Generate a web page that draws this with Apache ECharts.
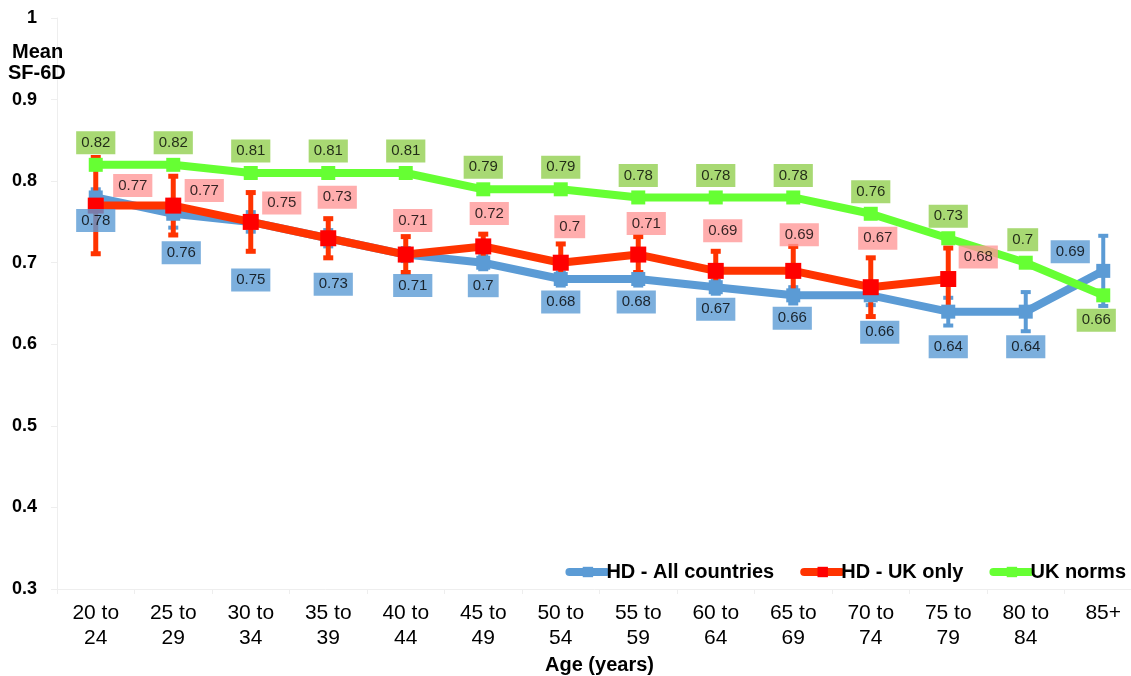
<!DOCTYPE html>
<html>
<head>
<meta charset="utf-8">
<script src="https://cdn.jsdelivr.net/npm/echarts@6/dist/echarts.min.js"></script>
<style>
html,body{margin:0;padding:0;background:#fff;}
#chart{width:1131px;height:676px;}
</style>
</head>
<body>
<div id="chart"></div>
<script>
// ---- data ----
var categories = ['20 to\n24','25 to\n29','30 to\n34','35 to\n39','40 to\n44','45 to\n49','50 to\n54','55 to\n59','60 to\n64','65 to\n69','70 to\n74','75 to\n79','80 to\n84','85+'];
var hdAll   = [0.78,0.76,0.75,0.73,0.71,0.70,0.68,0.68,0.67,0.66,0.66,0.64,0.64,0.69];
var hdUK    = [0.77,0.77,0.75,0.73,0.71,0.72,0.70,0.71,0.69,0.69,0.67,0.68,null,null];
var ukNorms = [0.82,0.82,0.81,0.81,0.81,0.79,0.79,0.78,0.78,0.78,0.76,0.73,0.70,0.66];
var hdAllErr = [0.010,0.017,0.012,0.010,0.008,0.008,0.008,0.008,0.008,0.010,0.012,0.017,0.024,0.043];
var hdUKErr  = [0.059,0.036,0.036,0.024,0.022,0.015,0.023,0.022,0.024,0.030,0.036,0.038,null,null];
var yTicks = [0.3,0.4,0.5,0.6,0.7,0.8,0.9,1];

// ---- label placement (styling, not data) ----
var blueShift  = [[0,23],[8,39],[0,58],[5,46],[7,31],[0,23],[0,23],[-2,23],[0,22],[-1,23],[9,37],[0,35],[0,35],[-33,-19]];
var redShift   = [[37,-20],[31,-15],[31,-19],[9,-41],[7,-34],[6,-33],[9,-36],[8,-31],[7,-40],[6,-36],[7,-49],[30,-22],[0,0],[0,0]];
var greenShift = [[0,-22],[0,-22],[0,-22],[0,-22],[0,-22],[0,-22],[0,-22],[0,-22],[0,-22],[0,-22],[0,-22],[0,-22],[-3,-23],[-7,25]];

var BLUE = '#5B9BD5', RED_LINE = '#FF3300', RED_MK = '#FF0000', GREEN = '#66FF33';
var FONT = 'Arial, "Liberation Sans", sans-serif';

function labelSeries(name, values, shifts, bg) {
  var data = [];
  values.forEach(function (v, i) {
    if (v == null) return;
    data.push({
      value: [i, v],
      label: {
        show: true,
        position: 'inside',
        offset: shifts[i],
        backgroundColor: bg,
        color: '#000',
        fontFamily: FONT,
        fontSize: 15,
        padding: [4, 5, 4, 5],
        formatter: function (p) { return String(p.value[1]); }
      }
    });
  });
  return {
    name: name + ' labels',
    type: 'scatter',
    data: data,
    symbol: 'rect',
    symbolSize: 2,
    itemStyle: { color: 'rgba(255,255,255,0)' },
    silent: true,
    z: 20
  };
}

function errData(values, errs) {
  var out = [];
  values.forEach(function (v, i) {
    if (v != null && errs[i] != null) out.push([i, v - errs[i], v + errs[i]]);
  });
  return out;
}

function errSeries(name, values, errs, color, width) {
  return {
    type: 'custom',
    name: name + ' err',
    data: errData(values, errs),
    encode: { x: 0, y: [1, 2] },
    silent: true,
    z: 2,
    renderItem: function (params, api) {
      var lo = api.coord([api.value(0), api.value(1)]);
      var hi = api.coord([api.value(0), api.value(2)]);
      var half = 5;
      var st = { stroke: color, lineWidth: width };
      return {
        type: 'group',
        children: [
          { type: 'line', shape: { x1: lo[0], y1: lo[1], x2: hi[0], y2: hi[1] }, style: st },
          { type: 'line', shape: { x1: lo[0] - half, y1: lo[1], x2: lo[0] + half, y2: lo[1] }, style: st },
          { type: 'line', shape: { x1: hi[0] - half, y1: hi[1], x2: hi[0] + half, y2: hi[1] }, style: st }
        ]
      };
    }
  };
}

var chart = echarts.init(document.getElementById('chart'), null, { renderer: 'canvas' });

var option = {
  animation: false,
  backgroundColor: '#fff',
  grid: { left: 57, top: 18, right: -11, bottom: 87, containLabel: false, outerBoundsMode: 'none' },
  legend: {
    right: 0,
    top: 557,
    itemWidth: 37,
    itemHeight: 13,
    itemGap: 26,
    lineStyle: { width: 8, cap: 'round' },
    textStyle: { fontFamily: FONT, fontWeight: 'bold', fontSize: 20, color: '#000', padding: [0, 0, 0, -5] },
    data: ['HD - All countries', 'HD - UK only', 'UK norms']
  },
  graphic: [
    { type: 'text', left: 12, top: 42, z: 100, style: { text: 'Mean', font: 'bold 20px Arial, "Liberation Sans", sans-serif', fill: '#000' } },
    { type: 'text', left: 8, top: 63, z: 100, style: { text: 'SF-6D', font: 'bold 20px Arial, "Liberation Sans", sans-serif', fill: '#000' } }
  ],
  xAxis: {
    type: 'category',
    data: categories,
    boundaryGap: true,
    name: 'Age (years)',
    nameLocation: 'middle',
    nameGap: 64,
    nameTextStyle: { fontFamily: FONT, fontWeight: 'bold', fontSize: 20, color: '#000' },
    axisLine: { show: true, lineStyle: { color: '#eeeeee', width: 1 } },
    axisTick: { show: true, length: 5, lineStyle: { color: '#eeeeee' } },
    axisLabel: { fontFamily: FONT, fontSize: 21, color: '#000', lineHeight: 25, margin: 12 },
    splitLine: { show: false }
  },
  yAxis: {
    type: 'value',
    min: 0.3,
    max: 1,
    interval: 0.1,
    axisLine: { show: true, lineStyle: { color: '#eeeeee', width: 1 } },
    axisTick: { show: true, length: 6, lineStyle: { color: '#eeeeee' } },
    axisLabel: {
      fontFamily: FONT, fontWeight: 'bold', fontSize: 18, color: '#000', margin: 20,
      formatter: function (v) {
        var r = Math.round(v * 10) / 10;
        for (var i = 0; i < yTicks.length; i++) if (Math.abs(yTicks[i] - r) < 1e-6) return String(yTicks[i]);
        return '';
      }
    },
    splitLine: { show: false }
  },
  series: [
    errSeries('HD - All countries', hdAll, hdAllErr, BLUE, 4),
    {
      name: 'HD - All countries',
      type: 'line',
      data: hdAll,
      symbol: 'rect',
      symbolSize: 14,
      lineStyle: { color: BLUE, width: 8 },
      itemStyle: { color: BLUE },
      z: 3
    },
    errSeries('HD - UK only', hdUK, hdUKErr, RED_LINE, 5),
    {
      name: 'HD - UK only',
      type: 'line',
      data: hdUK,
      symbol: 'rect',
      symbolSize: 16,
      lineStyle: { color: RED_LINE, width: 8 },
      itemStyle: { color: RED_MK },
      z: 5
    },
    {
      name: 'UK norms',
      type: 'line',
      data: ukNorms,
      symbol: 'rect',
      symbolSize: 14,
      lineStyle: { color: GREEN, width: 8 },
      itemStyle: { color: GREEN },
      z: 6
    },
    labelSeries('HD - All countries', hdAll, blueShift, BLUE),
    labelSeries('HD - UK only', hdUK, redShift, '#FF9999'),
    labelSeries('UK norms', ukNorms, greenShift, '#92D050')
  ]
};
chart.setOption(option);
</script>
</body>
</html>
